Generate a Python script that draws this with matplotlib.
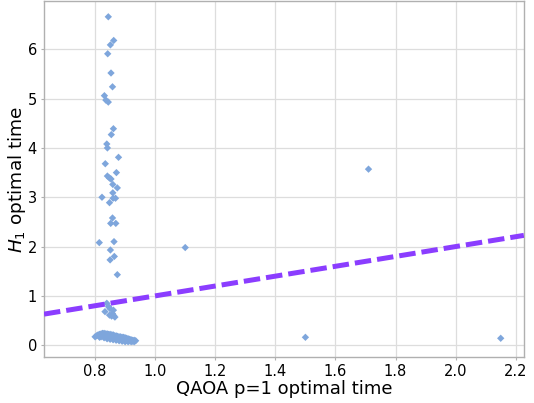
import matplotlib
matplotlib.use("Agg")
import matplotlib.pyplot as plt
import numpy as np

# QAOA p=1 optimal time (x) vs H1 optimal time (y)
upper_x = [0.844, 0.862, 0.851, 0.842, 0.853, 0.858, 0.831, 0.836, 0.844, 0.861,
           0.854, 0.839, 0.841, 0.878, 0.834, 0.871, 0.841, 0.848, 0.853, 0.859,
           0.874, 0.859, 0.823, 0.860, 0.868, 0.848, 0.858, 0.852, 0.869, 0.814,
           0.863, 0.851, 0.864, 0.850, 0.874]
upper_y = [6.66, 6.18, 6.09, 5.91, 5.52, 5.24, 5.06, 4.97, 4.93, 4.39,
           4.27, 4.08, 4.00, 3.81, 3.68, 3.50, 3.43, 3.39, 3.37, 3.26,
           3.19, 3.09, 3.00, 2.98, 2.98, 2.89, 2.58, 2.47, 2.47, 2.08,
           2.10, 1.93, 1.80, 1.73, 1.43]

mid_x = [0.839, 0.833, 0.850, 0.861, 0.855, 0.866, 0.848, 0.845, 0.858, 0.862]
mid_y = [0.85, 0.68, 0.74, 0.71, 0.59, 0.57, 0.61, 0.78, 0.64, 0.60]

band_x = [0.800, 0.805, 0.810, 0.815, 0.820, 0.825, 0.830, 0.835, 0.840, 0.845,
          0.850, 0.855, 0.860, 0.865, 0.870, 0.875, 0.880, 0.885, 0.890, 0.895,
          0.900, 0.905, 0.910, 0.915, 0.920, 0.925, 0.930, 0.935,
          0.815, 0.820, 0.830, 0.840, 0.850, 0.860, 0.870, 0.880, 0.890, 0.900,
          0.910, 0.920, 0.930, 0.825, 0.835, 0.845, 0.855, 0.865, 0.875, 0.885,
          0.895, 0.905, 0.915, 0.925, 0.838, 0.848, 0.858, 0.868, 0.878, 0.888,
          0.898, 0.908, 0.918]
band_y = [0.17, 0.19, 0.21, 0.22, 0.23, 0.24, 0.24, 0.23, 0.23, 0.22,
          0.22, 0.21, 0.21, 0.19, 0.19, 0.18, 0.17, 0.17, 0.16, 0.16,
          0.15, 0.14, 0.13, 0.12, 0.11, 0.10, 0.10, 0.09,
          0.16, 0.17, 0.15, 0.13, 0.12, 0.11, 0.10, 0.09, 0.08, 0.07,
          0.07, 0.07, 0.07, 0.19, 0.18, 0.17, 0.16, 0.14, 0.13, 0.12,
          0.11, 0.10, 0.09, 0.08, 0.20, 0.19, 0.17, 0.15, 0.14, 0.13,
          0.12, 0.11, 0.10]

outlier_x = [1.10, 1.71, 1.50, 2.15]
outlier_y = [1.98, 3.57, 0.16, 0.14]

xs = np.array(upper_x + mid_x + band_x + outlier_x)
ys = np.array(upper_y + mid_y + band_y + outlier_y)

x_ticks = [0.8, 1.0, 1.2, 1.4, 1.6, 1.8, 2.0, 2.2]
y_ticks = [0, 1, 2, 3, 4, 5, 6]
xlim = (0.63, 2.227)
ylim = (-0.24, 6.98)

fig = plt.figure(figsize=(5.34, 4.03), dpi=100)
ax = fig.add_axes([0.0824, 0.1141, 0.8986, 0.8834])

ax.scatter(xs, ys, marker='D', s=14, color='#7ea6dc', edgecolors='none', zorder=3)
ref = np.array(xlim)
ax.plot(ref, ref, color='#8b3dff', linewidth=3.6, dashes=(3.3, 1.2), zorder=4)

ax.set_xlim(*xlim)
ax.set_ylim(*ylim)
ax.set_xticks(x_ticks)
ax.set_yticks(y_ticks)
ax.set_xticklabels([f"{t:.1f}" for t in x_ticks])
ax.grid(True, color='#dddddd', linewidth=0.9, zorder=0)
ax.set_axisbelow(True)
for s in ax.spines.values():
    s.set_color('#b0b0b0')
    s.set_linewidth(1.0)
ax.tick_params(labelsize=10.5, colors='#b0b0b0', labelcolor='black', length=2, width=0.8, pad=3)
ax.set_xlabel('QAOA p=1 optimal time', fontsize=13, labelpad=1)
ax.set_ylabel('$H_1$ optimal time', fontsize=13.3, labelpad=0)

fig.savefig('out.png', dpi=100)
